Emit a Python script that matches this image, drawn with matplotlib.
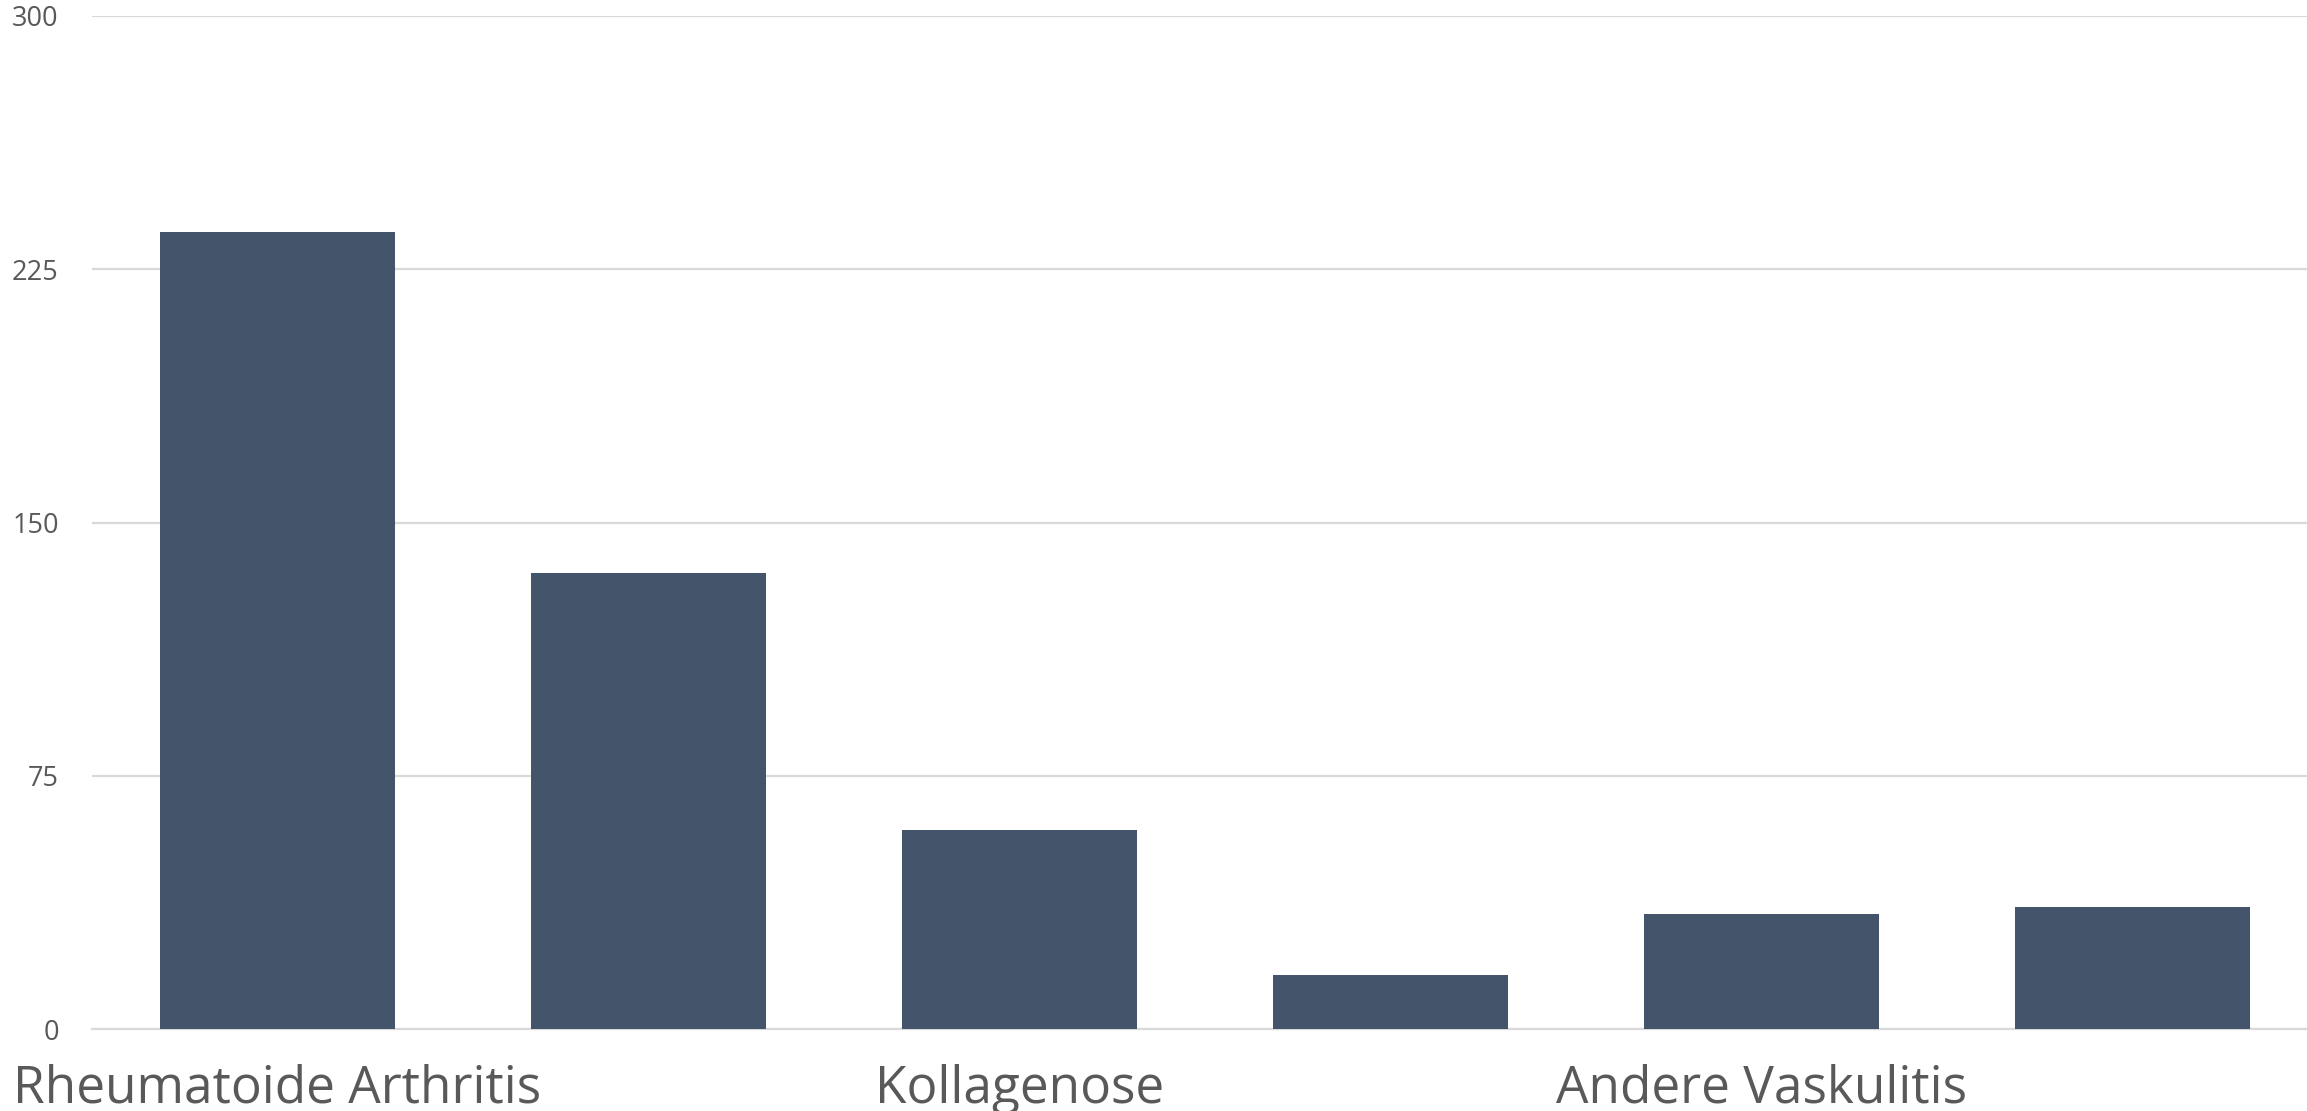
import matplotlib
matplotlib.use("Agg")
import matplotlib.pyplot as plt

# categories (only every other one is labelled in the original chart)
categories = ["Rheumatoide Arthritis", "", "Kollagenose", "", "Andere Vaskulitis", ""]
values = [236, 135, 59, 16, 34, 36]
y_ticks = [0, 75, 150, 225, 300]

BAR = "#44546A"
GRID = "#D9D9D9"
TEXT = "#595959"

plt.rcParams["font.family"] = ["Open Sans", "DejaVu Sans"]

fig = plt.figure(figsize=(23.07, 11.11), dpi=100)
W, H = 2307, 1111
left, right = 92, 2318
top, bottom = 16, 1029
ax = fig.add_axes([left / W, (H - bottom) / H, (right - left) / W, (bottom - top) / H])

x = range(len(values))
ax.bar(x, values, width=0.633, color=BAR, zorder=3)

ax.set_xlim(-0.5, len(values) - 0.5)
ax.set_ylim(0, 300)
ax.set_yticks(y_ticks)
ax.set_yticklabels([str(v) for v in y_ticks], fontsize=19.5, color=TEXT)
ax.set_xticks(list(x))
ax.set_xticklabels(categories, fontsize=37, color=TEXT)

ax.grid(axis="y", color=GRID, linewidth=1.6, zorder=0)
ax.tick_params(axis="y", length=0, pad=24)
ax.tick_params(axis="x", length=0, pad=25)
for s in ["top", "right", "left"]:
    ax.spines[s].set_visible(False)
ax.spines["bottom"].set_color(GRID)
ax.spines["bottom"].set_linewidth(1.6)

fig.savefig("out.png", dpi=100)
